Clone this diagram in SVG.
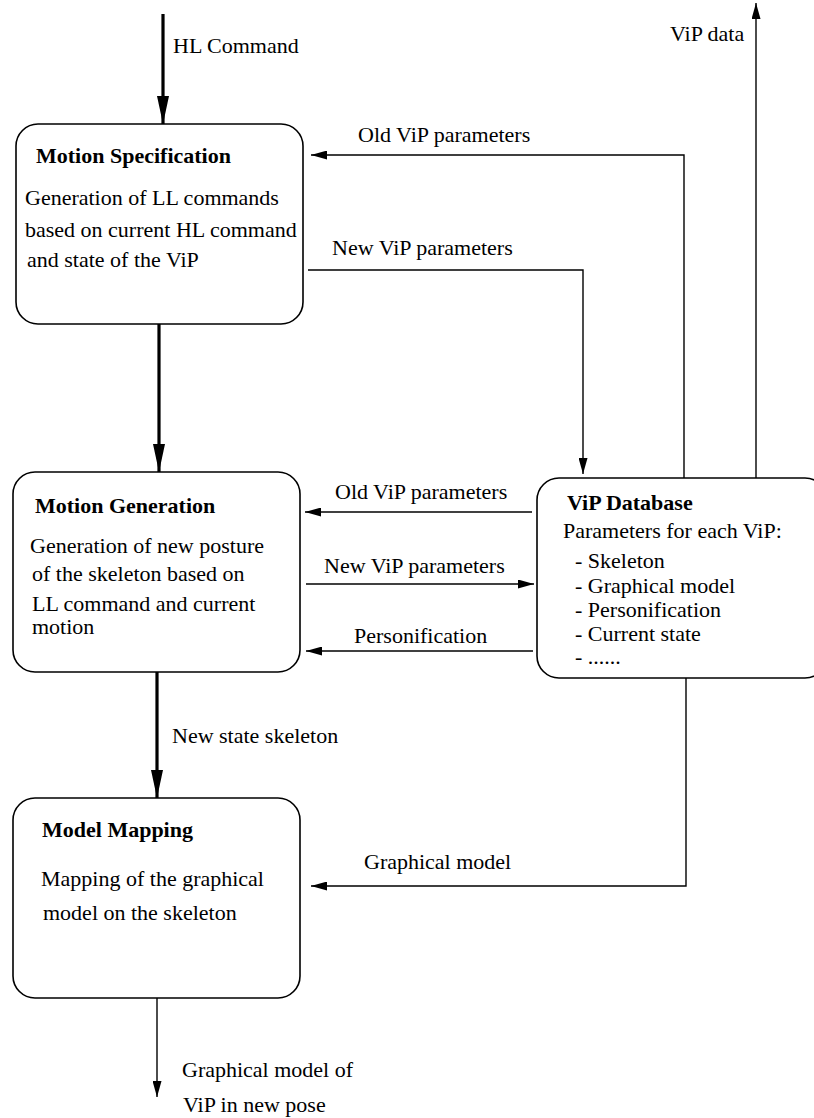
<svg xmlns="http://www.w3.org/2000/svg" width="814" height="1118" viewBox="0 0 814 1118">
<defs>
<marker id="ah" viewBox="0 0 16 9" refX="16" refY="4.5" markerWidth="16" markerHeight="9" markerUnits="userSpaceOnUse" orient="auto"><path d="M0,0 L16,4.5 L0,9 Z" fill="#000"/></marker>
<marker id="ahk" viewBox="0 0 28 12" refX="28" refY="6" markerWidth="28" markerHeight="12" markerUnits="userSpaceOnUse" orient="auto"><path d="M0,0 L28,6 L0,12 Z" fill="#000"/></marker>
</defs>
<style>
text{font-size:22px;fill:#000}
.b{font-weight:bold}
.box{fill:#fff;stroke:#000;stroke-width:1.6}
.ln{fill:none;stroke:#000;stroke-width:1.4}
.th{fill:none;stroke:#000;stroke-width:3.2}
</style>
<rect width="814" height="1118" fill="#fff"/>
<g font-family="'Liberation Serif', 'Times New Roman', 'DejaVu Serif', serif">
<g id="connectors">
<path class="th" d="M163,14 V124" marker-end="url(#ahk)"/>
<path class="th" d="M159,324 V472" marker-end="url(#ahk)"/>
<path class="th" d="M157,672 V798" marker-end="url(#ahk)"/>
<path class="ln" d="M157,998 V1097" marker-end="url(#ah)"/>
<path class="ln" d="M684,478 V155 H311" marker-end="url(#ah)"/>
<path class="ln" d="M308,270 H583 V474" marker-end="url(#ah)"/>
<path class="ln" d="M756,478 V3" marker-end="url(#ah)"/>
<path class="ln" d="M532,512 H305" marker-end="url(#ah)"/>
<path class="ln" d="M306,584 H534" marker-end="url(#ah)"/>
<path class="ln" d="M533,651 H306" marker-end="url(#ah)"/>
<path class="ln" d="M686,678 V886 H311" marker-end="url(#ah)"/>
<text x="173" y="53">HL Command</text>
<text x="670" y="41">ViP data</text>
<text x="358" y="142">Old ViP parameters</text>
<text x="332" y="255">New ViP parameters</text>
<text x="335" y="499">Old ViP parameters</text>
<text x="324" y="573">New ViP parameters</text>
<text x="354" y="643">Personification</text>
<text x="172" y="743">New state skeleton</text>
<text x="364" y="869">Graphical model</text>
<text x="182" y="1077">Graphical model of</text>
<text x="183" y="1112">ViP in new pose</text>
</g>
<g id="motion-specification">
<rect class="box" x="16" y="124" width="287" height="200" rx="22"/>
<text class="b" x="36" y="163">Motion Specification</text>
<text x="25" y="205">Generation of LL commands</text>
<text x="25" y="237">based on current HL command</text>
<text x="27" y="267">and state of the ViP</text>
</g>
<g id="motion-generation">
<rect class="box" x="13" y="472" width="287" height="200" rx="22"/>
<text class="b" x="35" y="513">Motion Generation</text>
<text x="30" y="553">Generation of new posture</text>
<text x="32" y="581">of the skeleton based on</text>
<text x="32" y="611">LL command and current</text>
<text x="32" y="634">motion</text>
</g>
<g id="model-mapping">
<rect class="box" x="13" y="798" width="287" height="200" rx="22"/>
<text class="b" x="42" y="837">Model Mapping</text>
<text x="41" y="886">Mapping of the graphical</text>
<text x="43" y="920">model on the skeleton</text>
</g>
<g id="vip-database">
<rect class="box" x="537" y="478" width="290" height="200" rx="22"/>
<text class="b" x="567" y="510">ViP Database</text>
<text x="563" y="538">Parameters for each ViP:</text>
<text x="575" y="568">- Skeleton</text>
<text x="575" y="593">- Graphical model</text>
<text x="575" y="617">- Personification</text>
<text x="575" y="641">- Current state</text>
<text x="575" y="664">- ......</text>
</g>
</g>
</svg>
